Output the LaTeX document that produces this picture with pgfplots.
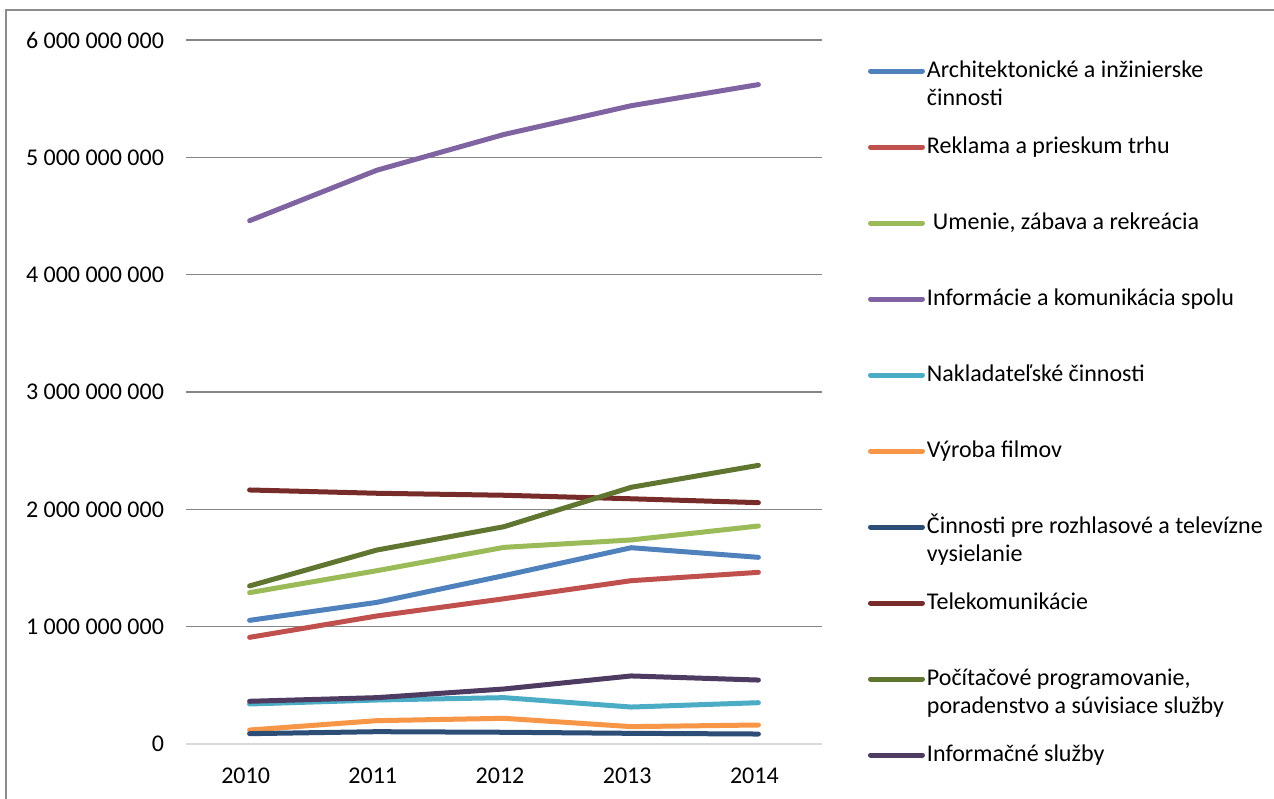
\documentclass[border=0pt]{standalone}
\usepackage{pgfplots}
\pgfplotsset{compat=1.18}
\usepackage{fontspec}
\setmainfont{Carlito}
\definecolor{c1}{HTML}{4F81BD}
\definecolor{c2}{HTML}{C0504D}
\definecolor{c3}{HTML}{9BBB59}
\definecolor{c4}{HTML}{8064A2}
\definecolor{c5}{HTML}{4BACC6}
\definecolor{c6}{HTML}{F79646}
\definecolor{c7}{HTML}{2C4D75}
\definecolor{c8}{HTML}{772C2A}
\definecolor{c9}{HTML}{5F7530}
\definecolor{c10}{HTML}{4D3B62}
\definecolor{gridgray}{HTML}{868686}
\definecolor{basegray}{HTML}{D9D9D9}
\definecolor{framegray}{HTML}{8C8C8C}
\begin{document}
\begin{tikzpicture}
\useasboundingbox (0,0) rectangle (637pt,399pt);
\fill[white] (0,0) rectangle (637pt,399pt);
\draw[color=framegray, line width=0.8pt] (3pt,-3pt) -- (3pt,394pt) -- (641pt,394pt);
\begin{axis}[
  at={(93pt,27pt)}, anchor=south west,
  scale only axis, width=318pt, height=352pt,
  xmin=-0.5, xmax=4.5, ymin=0, ymax=6e9,
  xtick={0,1,2,3,4}, xticklabels={2010,2011,2012,2013,2014},
  ytick={0,1e9,2e9,3e9,4e9,5e9,6e9},
  yticklabels={0,1 000 000 000,2 000 000 000,3 000 000 000,4 000 000 000,5 000 000 000,6 000 000 000},
  scaled y ticks=false,
  ymajorgrids, grid style={color=gridgray, line width=0.75pt},
  axis x line=bottom, axis y line=left,
  x axis line style={-, color=basegray, line width=0.9pt},
  y axis line style={draw=none},
  major tick length=0pt,
  tick label style={font=\fontsize{12}{14}\selectfont, color=black},
  xticklabel style={yshift=-8.5pt, xshift=-2pt},
  yticklabel style={xshift=-7.5pt},
  every axis plot/.append style={line width=2.5pt, line cap=round, line join=round, mark=none},
  legend cell align=left,
  legend image code/.code={\draw[line width=2.5pt, line cap=round] (0pt,0pt) -- (26pt,0pt);},
  legend style={at={(1.0723,1.0099)}, anchor=north west, draw=none, fill=none,
    inner sep=0pt, outer sep=0pt, row sep=0pt, column sep=1pt,
    cells={anchor=west},
    nodes={inner sep=0pt, outer sep=0pt, text height=22pt, text depth=16pt},
    font=\fontsize{12}{14}\selectfont},
]
\addplot[c1] coordinates {(0,1.054e9) (1,1.207e9) (2,1.435e9) (3,1.673e9) (4,1.591e9)};
\addlegendentry{\parbox[t]{190pt}{Architektonické a inžinierske\\činnosti}}
\addplot[c2] coordinates {(0,0.909e9) (1,1.091e9) (2,1.238e9) (3,1.392e9) (4,1.463e9)};
\addlegendentry{Reklama a prieskum trhu}
\addplot[c3] coordinates {(0,1.290e9) (1,1.477e9) (2,1.676e9) (3,1.739e9) (4,1.858e9)};
\addlegendentry{\hspace{3pt}Umenie, zábava a rekreácia}
\addplot[c4] coordinates {(0,4.460e9) (1,4.890e9) (2,5.195e9) (3,5.440e9) (4,5.620e9)};
\addlegendentry{Informácie a komunikácia spolu}
\addplot[c5] coordinates {(0,0.341e9) (1,0.375e9) (2,0.395e9) (3,0.315e9) (4,0.352e9)};
\addlegendentry{Nakladateľské činnosti}
\addplot[c6] coordinates {(0,0.119e9) (1,0.199e9) (2,0.219e9) (3,0.148e9) (4,0.162e9)};
\addlegendentry{Výroba filmov}
\addplot[c7] coordinates {(0,0.088e9) (1,0.105e9) (2,0.100e9) (3,0.091e9) (4,0.085e9)};
\addlegendentry{\parbox[t]{190pt}{Činnosti pre rozhlasové a televízne\\vysielanie}}
\addplot[c8] coordinates {(0,2.165e9) (1,2.137e9) (2,2.120e9) (3,2.090e9) (4,2.057e9)};
\addlegendentry{Telekomunikácie}
\addplot[c9] coordinates {(0,1.347e9) (1,1.653e9) (2,1.852e9) (3,2.188e9) (4,2.375e9)};
\addlegendentry{\parbox[t]{190pt}{Počítačové programovanie,\\poradenstvo a súvisiace služby}}
\addplot[c10] coordinates {(0,0.364e9) (1,0.395e9) (2,0.469e9) (3,0.580e9) (4,0.545e9)};
\addlegendentry{Informačné služby}
\end{axis}
\end{tikzpicture}
\end{document}
